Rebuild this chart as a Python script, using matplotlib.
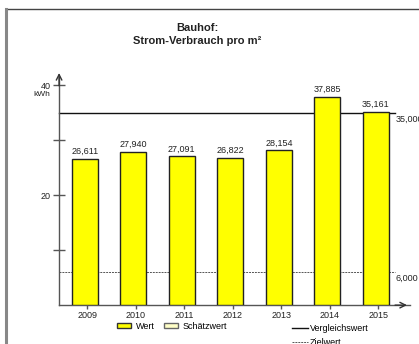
import numpy as np
import matplotlib
matplotlib.use("Agg")
from matplotlib import pyplot as plt
from matplotlib.patches import Patch, Rectangle
from matplotlib.lines import Line2D

plt.rcParams["font.family"] = ["Liberation Sans", "DejaVu Sans"]

# data
jahre = ["2009", "2010", "2011", "2012", "2013", "2014", "2015"]
wert = [26.611, 27.940, 27.091, 26.822, 28.154, 37.885, 35.161]
vergleichswert = 35.0
zielwert = 6.0
y_major = [20, 40]
y_minor = [10, 30]


def fmt(v, nd=3):
    # german decimal comma
    return f"{v:.{nd}f}".replace(".", ",")


fig = plt.figure(figsize=(4.19, 3.44), dpi=100)
ax = fig.add_axes([0.141, 0.113, 0.837, 0.663])

# outer frame (left + top visible)
fig.add_artist(Rectangle((5.5 / 419, -0.1), 1.2, 1.1 - 9 / 344,
                         transform=fig.transFigure, fill=False,
                         edgecolor="#444444", linewidth=1.0))
fig.add_artist(Line2D([6 / 419, 6 / 419], [0, 1 - 9 / 344], transform=fig.transFigure,
                      color="#888888", linewidth=2.2))

x = np.arange(len(jahre))
ax.bar(x - 0.05, wert, width=0.54, color="#FFFF00", edgecolor="#222222",
       linewidth=1.0, zorder=3)
for xi, v in zip(x, wert):
    ax.text(xi - 0.05, v + 0.5, fmt(v), ha="center", va="bottom",
            fontsize=6.5, color="#222222")

# reference lines
ax.plot([-0.58, 6.35], [vergleichswert, vergleichswert], color="#111111",
        linewidth=1.0, zorder=2, clip_on=False)
ax.plot([-0.58, 6.35], [zielwert, zielwert], color="#555555",
        linewidth=0.7, linestyle=(0, (2, 1)), zorder=2, clip_on=False)
ax.text(6.36, vergleichswert - 0.3, fmt(vergleichswert), ha="left", va="top",
        fontsize=6.5, color="#222222", clip_on=False)
ax.text(6.36, zielwert - 0.3, fmt(zielwert), ha="left", va="top",
        fontsize=6.5, color="#222222", clip_on=False)

ax.set_xlim(-0.58, 6.65)
ax.set_ylim(0, 41.5)

for s in ["top", "right"]:
    ax.spines[s].set_visible(False)
for s in ["left", "bottom"]:
    ax.spines[s].set_color("#555555")
    ax.spines[s].set_linewidth(1.0)

ax.set_xticks(x)
ax.set_xticklabels(jahre)
ax.set_yticks(y_major)
ax.set_yticklabels([str(v) for v in y_major])
ax.set_yticks(y_minor, minor=True)
ax.tick_params(axis="x", direction="out", length=3, width=1, color="#555555",
               labelsize=6.5, labelcolor="#222222", pad=1)
ax.tick_params(axis="y", which="both", direction="inout", length=8, width=1,
               color="#555555", labelsize=6.5, labelcolor="#222222", pad=2)
ax.text(-0.025, 38.3, "kWh", transform=ax.get_yaxis_transform(), ha="right",
        va="center", fontsize=6, color="#222222")

# arrow heads on the axes
ax.annotate("", xy=(0, 1.03), xytext=(0, 0.95), xycoords="axes fraction",
            arrowprops=dict(arrowstyle="->", color="#333333", lw=1.0,
                            mutation_scale=10), annotation_clip=False)
ax.annotate("", xy=(1.0, 0), xytext=(0.95, 0), xycoords="axes fraction",
            arrowprops=dict(arrowstyle="->", color="#333333", lw=1.0,
                            mutation_scale=10), annotation_clip=False)

fig.text(0.47, 0.92, "Bauhof:", ha="center", va="center", fontsize=8,
         fontweight="bold", color="#222222")
fig.text(0.47, 0.882, "Strom-Verbrauch pro m²", ha="center", va="center",
         fontsize=8, fontweight="bold", color="#222222")

# legends
h1 = [Patch(facecolor="#FFFF00", edgecolor="#333333", linewidth=1.0),
      Patch(facecolor="#FFFFC8", edgecolor="#666666", linewidth=1.0)]
fig.legend(h1, ["Wert", "Schätzwert"], loc="center left",
           bbox_to_anchor=(0.268, 0.052), ncol=2, frameon=False, fontsize=6.5,
           handlelength=1.6, handleheight=0.5, handletextpad=0.5,
           columnspacing=1.0, borderpad=0)
h2 = [Line2D([], [], color="#111111", linewidth=1.0),
      Line2D([], [], color="#555555", linewidth=0.7, linestyle=(0, (2, 1)))]
fig.legend(h2, ["Vergleichswert", "Zielwert"], loc="upper left",
           bbox_to_anchor=(0.685, 0.072), ncol=1, frameon=False, fontsize=6.5,
           handlelength=1.8, handletextpad=0.2, labelspacing=0.6, borderpad=0)

fig.savefig("out.png", dpi=100)
